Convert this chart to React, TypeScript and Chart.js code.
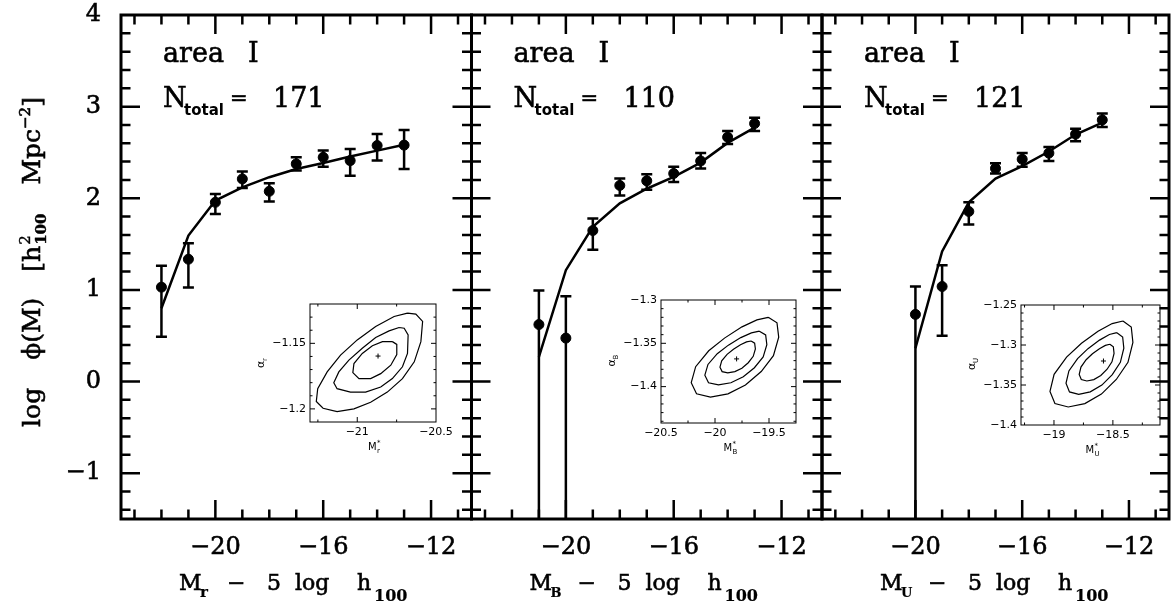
import React, { useEffect, useRef } from 'react';
import { Chart, registerables } from 'chart.js';

Chart.register(...registerables);

const SERIF = '"DejaVu Serif", serif';
const SANS = '"DejaVu Sans", sans-serif';

// ---------- main axes ----------
const xMajorTicks = [-20, -16, -12];
const yMajorTicks = [-1, 0, 1, 2, 3, 4];

// ---------- r band ----------
const rMag = [-22, -21, -20, -19, -18, -17, -16, -15, -14, -13];
const rPhi = [1.03, 1.335, 1.956, 2.211, 2.076, 2.375, 2.447, 2.411, 2.575, 2.58];
const rErrHigh = [1.265, 1.509, 2.047, 2.291, 2.164, 2.447, 2.52, 2.538, 2.702, 2.745];
const rErrLow = [0.49, 1.025, 1.829, 2.113, 1.964, 2.302, 2.345, 2.247, 2.411, 2.32];
const rFit = [0.8, 1.593, 1.975, 2.12, 2.23, 2.32, 2.385, 2.455, 2.52, 2.585];

// ---------- B band ----------
const bMag = [-21, -20, -19, -18, -17, -16, -15, -14, -13];
const bPhi = [0.622, 0.474, 1.648, 2.14, 2.19, 2.27, 2.407, 2.667, 2.815];
const bErrHigh = [0.993, 0.93, 1.778, 2.215, 2.263, 2.344, 2.493, 2.733, 2.88];
const bErrLow = [null, null, 1.437, 2.03, 2.093, 2.178, 2.326, 2.593, 2.733];
const bFit = [0.27, 1.215, 1.689, 1.944, 2.104, 2.233, 2.389, 2.604, 2.77];

// ---------- U band ----------
const uMag = [-20, -19, -18, -17, -16, -15, -14, -13];
const uPhi = [0.733, 1.037, 1.856, 2.326, 2.426, 2.493, 2.7, 2.855];
const uErrHigh = [1.037, 1.27, 1.956, 2.381, 2.493, 2.559, 2.759, 2.926];
const uErrLow = [null, 0.5, 1.715, 2.27, 2.344, 2.407, 2.622, 2.778];
const uFit = [0.363, 1.419, 1.956, 2.215, 2.352, 2.51, 2.696, 2.826];

const panelTotals = ['171', '110', '121'];
const bandNames = ['r', 'B', 'U'];

// ---------- inset contours (M*, alpha) ----------
const rContourOuter = [[-20.681,-1.1269],[-20.628,-1.1277],[-20.585,-1.1333],[-20.596,-1.1487],[-20.638,-1.1641],[-20.713,-1.1769],[-20.809,-1.1872],[-20.915,-1.1949],[-21.021,-1.2],[-21.128,-1.2021],[-21.217,-1.1995],[-21.26,-1.1944],[-21.251,-1.1846],[-21.191,-1.1718],[-21.106,-1.159],[-21.0,-1.1474],[-20.883,-1.1372],[-20.766,-1.1295]];
const rContourMid = [[-20.734,-1.1379],[-20.702,-1.1385],[-20.677,-1.1436],[-20.681,-1.1577],[-20.713,-1.1679],[-20.777,-1.1769],[-20.851,-1.1833],[-20.947,-1.1872],[-21.043,-1.1872],[-21.128,-1.1846],[-21.149,-1.18],[-21.117,-1.1718],[-21.053,-1.1628],[-20.968,-1.1538],[-20.883,-1.1456],[-20.798,-1.1405]];
const rContourInner = [[-20.777,-1.1487],[-20.749,-1.1508],[-20.749,-1.1585],[-20.787,-1.1667],[-20.851,-1.1731],[-20.915,-1.1769],[-20.989,-1.1769],[-21.028,-1.1723],[-21.021,-1.1654],[-20.968,-1.1577],[-20.904,-1.1518],[-20.84,-1.1487]];
const rBest = [-20.868, -1.1597];

const bContourOuter = [[-19.507,-1.32],[-19.426,-1.3264],[-19.41,-1.343],[-19.459,-1.3642],[-19.572,-1.3826],[-19.718,-1.3982],[-19.88,-1.4083],[-20.042,-1.412],[-20.171,-1.4083],[-20.22,-1.3954],[-20.179,-1.377],[-20.058,-1.3586],[-19.912,-1.344],[-19.75,-1.331],[-19.612,-1.323]];
const bContourMid = [[-19.589,-1.336],[-19.531,-1.3403],[-19.52,-1.3515],[-19.554,-1.3658],[-19.635,-1.3782],[-19.738,-1.3887],[-19.853,-1.3955],[-19.968,-1.398],[-20.06,-1.3955],[-20.094,-1.3868],[-20.065,-1.3744],[-19.979,-1.362],[-19.876,-1.3521],[-19.761,-1.3434],[-19.663,-1.3379]];
const bContourInner = [[-19.665,-1.3473],[-19.633,-1.3499],[-19.626,-1.3565],[-19.646,-1.365],[-19.692,-1.3724],[-19.751,-1.3787],[-19.816,-1.3827],[-19.882,-1.3842],[-19.934,-1.3827],[-19.954,-1.3776],[-19.938,-1.3702],[-19.888,-1.3628],[-19.829,-1.3569],[-19.764,-1.3517],[-19.708,-1.3484]];
const bBest = [-19.8, -1.368];

const uContourOuter = [[-18.4145,-1.27],[-18.344,-1.2775],[-18.33,-1.2969],[-18.372,-1.3216],[-18.471,-1.3431],[-18.5975,-1.3614],[-18.738,-1.3732],[-18.879,-1.3775],[-18.992,-1.3732],[-19.034,-1.3581],[-18.999,-1.3366],[-18.893,-1.3151],[-18.7665,-1.2979],[-18.626,-1.2829],[-18.506,-1.2732]];
const uContourMid = [[-18.466,-1.2846],[-18.417,-1.29],[-18.407,-1.3039],[-18.4365,-1.3216],[-18.505,-1.337],[-18.5936,-1.3501],[-18.692,-1.3586],[-18.79,-1.3617],[-18.8685,-1.3586],[-18.898,-1.3478],[-18.8734,-1.3324],[-18.7998,-1.317],[-18.7114,-1.3046],[-18.6132,-1.2939],[-18.5297,-1.2869]];
const uContourInner = [[-18.5255,-1.2991],[-18.496,-1.3023],[-18.49,-1.3106],[-18.5078,-1.3211],[-18.549,-1.3303],[-18.6025,-1.3381],[-18.6617,-1.3432],[-18.721,-1.345],[-18.768,-1.3432],[-18.786,-1.3367],[-18.771,-1.3276],[-18.727,-1.3184],[-18.6735,-1.311],[-18.6143,-1.3046],[-18.564,-1.3005]];
const uBest = [-18.58, -1.32];

const rInsetXTicks = [-21, -20.5];
const rInsetYTicks = [-1.2, -1.15];
const bInsetXTicks = [-20.5, -20, -19.5];
const bInsetYTicks = [-1.4, -1.35, -1.3];
const uInsetXTicks = [-19, -18.5];
const uInsetYTicks = [-1.4, -1.35, -1.3, -1.25];

// ---------- layout ----------
const W = 1175, H = 607;
const PANELS = [
  { left: 121, right: 471.5, mag: rMag, phi: rPhi, hi: rErrHigh, lo: rErrLow, fit: rFit, band: bandNames[0], total: panelTotals[0], first: true },
  { left: 471.5, right: 822, mag: bMag, phi: bPhi, hi: bErrHigh, lo: bErrLow, fit: bFit, band: bandNames[1], total: panelTotals[1], first: false },
  { left: 822, right: 1172.5, mag: uMag, phi: uPhi, hi: uErrHigh, lo: uErrLow, fit: uFit, band: bandNames[2], total: panelTotals[2], first: false },
];
const PLOT_TOP = 15, PLOT_BOTTOM = 519;

const INSETS = [
  { box: [310, 304, 436, 422], xr: [-21.3, -20.5], yr: [-1.21, -1.12], xt: rInsetXTicks, yt: rInsetYTicks, xs: 0.25, ys: 0.01, contours: [rContourOuter, rContourMid, rContourInner], best: rBest, band: bandNames[0] },
  { box: [661, 300, 796, 423], xr: [-20.5, -19.25], yr: [-1.442, -1.3], xt: bInsetXTicks, yt: bInsetYTicks, xs: 0.25, ys: 0.01, contours: [bContourOuter, bContourMid, bContourInner], best: bBest, band: bandNames[1] },
  { box: [1021, 305, 1160, 425], xr: [-19.28, -18.1], yr: [-1.4, -1.25], xt: uInsetXTicks, yt: uInsetYTicks, xs: 0.25, ys: 0.01, contours: [uContourOuter, uContourMid, uContourInner], best: uBest, band: bandNames[2] },
];
const INS_PAD_L = 75, INS_PAD_T = 12, INS_PAD_R = 24, INS_PAD_B = 40;

const fmt = (v: number) => {
  const a = Math.round(Math.abs(v) * 1000) / 1000;
  return (v < 0 ? '\u2212' : '') + String(a);
};

function boldText(ctx: CanvasRenderingContext2D, t: string, x: number, y: number, w = 0.6) {
  ctx.fillText(t, x, y);
  ctx.lineWidth = w;
  ctx.strokeText(t, x, y);
}

function drawTicks(ctx: CanvasRenderingContext2D, a: any, sx: any, sy: any, xr: number[], xStep: number, xMaj: number[], yr: number[], yStep: number, yMaj: number[], majLen: number, minLen: number) {
  const isMaj = (list: number[], v: number) => list.some((m) => Math.abs(m - v) < 1e-7);
  ctx.beginPath();
  for (let k = Math.ceil(xr[0] / xStep - 1e-9); k * xStep <= xr[1] + 1e-9; k++) {
    const v = k * xStep;
    const px = sx.getPixelForValue(v);
    if (px <= a.left + 1 || px >= a.right - 1) continue;
    const len = isMaj(xMaj, v) ? majLen : minLen;
    ctx.moveTo(px, a.bottom); ctx.lineTo(px, a.bottom - len);
    ctx.moveTo(px, a.top); ctx.lineTo(px, a.top + len);
  }
  for (let k = Math.ceil(yr[0] / yStep - 1e-9); k * yStep <= yr[1] + 1e-9; k++) {
    const v = k * yStep;
    const py = sy.getPixelForValue(v);
    if (py <= a.top + 1 || py >= a.bottom - 1) continue;
    const len = isMaj(yMaj, v) ? majLen : minLen;
    ctx.moveTo(a.left, py); ctx.lineTo(a.left + len, py);
    ctx.moveTo(a.right, py); ctx.lineTo(a.right - len, py);
  }
  ctx.stroke();
}

function drawYTitle(ctx: CanvasRenderingContext2D) {
  const big = '25px ' + SERIF;
  const small = '15px ' + SERIF;
  const smallB = 'bold 15px ' + SERIF;
  const parts: any[] = [
    { t: 'log', f: big, dy: 0 },
    { gap: 28 },
    { t: '\u03D5(M)', f: big, dy: 0 },
    { gap: 26 },
    { t: '[h', f: big, dy: 0 },
    { stack: [{ t: '2', f: small, dy: -10 }, { t: '100', f: smallB, dy: 6 }] },
    { gap: 28 },
    { t: 'Mpc', f: big, dy: 0 },
    { t: '\u22122', f: small, dy: -10 },
    { t: ']', f: big, dy: 0 },
  ];
  const widthOf = (p: any) => {
    if (p.gap) return p.gap;
    if (p.stack) return Math.max(...p.stack.map((s: any) => { ctx.font = s.f; return ctx.measureText(s.t).width; })) + 2;
    ctx.font = p.f; return ctx.measureText(p.t).width;
  };
  const total = parts.reduce((s, p) => s + widthOf(p), 0);
  ctx.save();
  ctx.translate(40, 262);
  ctx.rotate(-Math.PI / 2);
  ctx.fillStyle = '#000';
  ctx.strokeStyle = '#000';
  ctx.textAlign = 'left';
  ctx.textBaseline = 'alphabetic';
  let x = -total / 2;
  parts.forEach((p) => {
    const w = widthOf(p);
    if (p.stack) {
      p.stack.forEach((s: any) => { ctx.font = s.f; boldText(ctx, s.t, x + 1, s.dy, 0.4); });
    } else if (!p.gap) {
      ctx.font = p.f; boldText(ctx, p.t, x, p.dy);
    }
    x += w;
  });
  ctx.restore();
}

function mainPlugin(p: any) {
  return {
    id: 'mainFrame',
    afterDatasetsDraw(chart: any) {
      const { ctx, chartArea: a, scales } = chart;
      const sx = scales.x, sy = scales.y;
      ctx.save();
      ctx.beginPath();
      ctx.rect(a.left, a.top, a.right - a.left, a.bottom - a.top);
      ctx.clip();
      ctx.strokeStyle = '#000';
      ctx.lineWidth = 2.5;
      ctx.beginPath();
      p.mag.forEach((m: number, i: number) => {
        const px = sx.getPixelForValue(m);
        const yh = sy.getPixelForValue(p.hi[i]);
        const low = p.lo[i];
        const yl = low == null ? a.bottom + 5 : sy.getPixelForValue(low);
        ctx.moveTo(px, yh); ctx.lineTo(px, yl);
        ctx.moveTo(px - 5.5, yh); ctx.lineTo(px + 5.5, yh);
        if (low != null) { ctx.moveTo(px - 5.5, yl); ctx.lineTo(px + 5.5, yl); }
      });
      ctx.stroke();
      ctx.restore();
    },
    afterDraw(chart: any) {
      const { ctx, chartArea: a, scales } = chart;
      ctx.save();
      ctx.strokeStyle = '#000';
      ctx.lineWidth = 2.5;
      drawTicks(ctx, a, scales.x, scales.y, [-23.5, -10.5], 1, xMajorTicks, [-1.5, 4], 0.2, yMajorTicks, 19, 9.5);
      ctx.lineWidth = 3;
      ctx.strokeRect(a.left, a.top, a.right - a.left, a.bottom - a.top);

      ctx.fillStyle = '#000';
      ctx.textAlign = 'left';
      ctx.textBaseline = 'alphabetic';
      const L = a.left;
      ctx.font = '27px ' + SERIF;
      boldText(ctx, 'area', L + 42, 62);
      boldText(ctx, 'I', L + 127, 62);
      boldText(ctx, 'N', L + 42, 107);
      ctx.font = 'bold 15px ' + SANS;
      ctx.fillText('total', L + 63, 115);
      ctx.font = '21px ' + SERIF;
      boldText(ctx, '=', L + 109, 105);
      ctx.font = '27px ' + SERIF;
      boldText(ctx, p.total, L + 152, 107);

      // x axis title
      const segs = [
        { t: 'M', dx: 58, y: 590, f: '22px ' + SERIF },
        { t: p.band, dx: 79, y: 597, f: 'bold ' + (p.band === 'r' ? 15 : 13) + 'px ' + SERIF },
        { t: '\u2212', dx: 106, y: 590, f: '22px ' + SERIF },
        { t: '5', dx: 146, y: 590, f: '22px ' + SERIF },
        { t: 'log', dx: 174, y: 590, f: '22px ' + SERIF },
        { t: 'h', dx: 236, y: 590, f: '22px ' + SERIF },
        { t: '100', dx: 253, y: 601, f: 'bold 16px ' + SERIF },
      ];
      segs.forEach((s) => { ctx.font = s.f; boldText(ctx, s.t, L + s.dx, s.y, s.f.startsWith('bold') ? 0.2 : 0.6); });
      ctx.restore();
      if (p.first) drawYTitle(ctx);
    },
  };
}

function mainConfig(p: any): any {
  return {
    type: 'scatter',
    data: {
      datasets: [
        { data: p.mag.map((m: number, i: number) => ({ x: m, y: p.fit[i] })), showLine: true, borderColor: '#000', borderWidth: 2.5, pointRadius: 0, tension: 0, fill: false, order: 2 },
        { data: p.mag.map((m: number, i: number) => ({ x: m, y: p.phi[i] })), showLine: false, pointRadius: 5, pointBorderWidth: 1, pointBackgroundColor: '#000', pointBorderColor: '#000', order: 1 },
      ],
    },
    options: {
      responsive: false,
      animation: false,
      devicePixelRatio: 1,
      events: [],
      layout: { padding: { left: p.first ? 0 : p.left, right: W - p.right, top: PLOT_TOP, bottom: 0 } },
      plugins: { legend: { display: false }, tooltip: { enabled: false } },
      scales: {
        x: {
          type: 'linear', position: 'bottom', min: -23.5, max: -10.5,
          grid: { display: false, drawTicks: false }, border: { display: false },
          afterBuildTicks: (s: any) => { s.ticks = xMajorTicks.map((v) => ({ value: v })); },
          afterFit: (s: any) => { s.height = H - PLOT_BOTTOM; s.paddingLeft = 0; s.paddingRight = 0; },
          ticks: { autoSkip: false, maxRotation: 0, padding: 14, color: '#000', textStrokeColor: '#000', textStrokeWidth: 0.6, font: { family: SERIF, size: 24 }, callback: (v: number) => fmt(v) },
        },
        y: {
          type: 'linear', position: 'left', min: -1.5, max: 4,
          grid: { display: false, drawTicks: false }, border: { display: false },
          afterBuildTicks: (s: any) => { s.ticks = yMajorTicks.map((v) => ({ value: v })); },
          afterFit: (s: any) => { s.width = p.first ? p.left : 0; s.paddingTop = 0; s.paddingBottom = 0; },
          ticks: { display: p.first, autoSkip: false, padding: 20, color: '#000', textStrokeColor: '#000', textStrokeWidth: 0.6, font: { family: SERIF, size: 24 }, callback: (v: number) => fmt(v) },
        },
      },
    },
    plugins: [mainPlugin(p)],
  };
}

function insetPlugin(s: any) {
  return {
    id: 'insetFrame',
    afterDraw(chart: any) {
      const { ctx, chartArea: a, scales } = chart;
      ctx.save();
      ctx.strokeStyle = '#000';
      ctx.lineWidth = 1;
      drawTicks(ctx, a, scales.x, scales.y, s.xr, s.xs, s.xt, s.yr, s.ys, s.yt, 5, 2.5);
      ctx.strokeRect(a.left, a.top, a.right - a.left, a.bottom - a.top);
      ctx.fillStyle = '#000';
      ctx.textBaseline = 'alphabetic';
      ctx.textAlign = 'left';
      const cx = (a.left + a.right) / 2;
      ctx.font = '10px ' + SANS;
      ctx.fillText('M', cx - 5, a.bottom + 28);
      ctx.font = '7px ' + SANS;
      ctx.fillText('*', cx + 4, a.bottom + 23);
      ctx.fillText(s.band, cx + 4, a.bottom + 31);
      ctx.translate(a.left - 46, (a.top + a.bottom) / 2);
      ctx.rotate(-Math.PI / 2);
      ctx.font = '11px ' + SANS;
      ctx.fillText('\u03B1', -5, 0);
      ctx.font = '7px ' + SANS;
      ctx.fillText(s.band, 2, 3);
      ctx.restore();
    },
  };
}

function insetConfig(s: any): any {
  const tickFont = { family: SANS, size: 11 };
  return {
    type: 'scatter',
    data: {
      datasets: [
        ...s.contours.map((c: number[][]) => ({
          data: [...c, c[0]].map(([x, y]) => ({ x, y })),
          showLine: true, borderColor: '#000', borderWidth: 1.2, pointRadius: 0, tension: 0, fill: false,
        })),
        { data: [{ x: s.best[0], y: s.best[1] }], showLine: false, pointStyle: 'cross', pointRadius: 2.5, pointBorderWidth: 1, pointBorderColor: '#000', pointBackgroundColor: '#000' },
      ],
    },
    options: {
      responsive: false,
      animation: false,
      devicePixelRatio: 1,
      events: [],
      layout: { padding: { left: 0, right: INS_PAD_R, top: INS_PAD_T, bottom: 0 } },
      plugins: { legend: { display: false }, tooltip: { enabled: false } },
      scales: {
        x: {
          type: 'linear', min: s.xr[0], max: s.xr[1],
          grid: { display: false, drawTicks: false }, border: { display: false },
          afterBuildTicks: (sc: any) => { sc.ticks = s.xt.map((v: number) => ({ value: v })); },
          afterFit: (sc: any) => { sc.height = INS_PAD_B; sc.paddingLeft = 0; sc.paddingRight = 0; },
          ticks: { autoSkip: false, maxRotation: 0, padding: 4, color: '#000', font: tickFont, callback: (v: number) => fmt(v) },
        },
        y: {
          type: 'linear', min: s.yr[0], max: s.yr[1],
          grid: { display: false, drawTicks: false }, border: { display: false },
          afterBuildTicks: (sc: any) => { sc.ticks = s.yt.map((v: number) => ({ value: v })); },
          afterFit: (sc: any) => { sc.width = INS_PAD_L; sc.paddingTop = 0; sc.paddingBottom = 0; },
          ticks: { autoSkip: false, padding: 4, color: '#000', font: tickFont, callback: (v: number) => fmt(v) },
        },
      },
    },
    plugins: [insetPlugin(s)],
  };
}

export default function App() {
  const m0 = useRef<HTMLCanvasElement>(null);
  const m1 = useRef<HTMLCanvasElement>(null);
  const m2 = useRef<HTMLCanvasElement>(null);
  const i0 = useRef<HTMLCanvasElement>(null);
  const i1 = useRef<HTMLCanvasElement>(null);
  const i2 = useRef<HTMLCanvasElement>(null);
  const mainRefs = [m0, m1, m2];
  const insetRefs = [i0, i1, i2];

  useEffect(() => {
    const charts: Chart[] = [];
    PANELS.forEach((p, i) => {
      if (mainRefs[i].current) charts.push(new Chart(mainRefs[i].current as HTMLCanvasElement, mainConfig(p)));
    });
    INSETS.forEach((s, i) => {
      if (insetRefs[i].current) charts.push(new Chart(insetRefs[i].current as HTMLCanvasElement, insetConfig(s)));
    });
    return () => charts.forEach((c) => c.destroy());
  }, []);

  return (
    <div style={{ position: 'absolute', left: 0, top: 0, width: W, height: H, background: '#fff', overflow: 'hidden' }}>
      {PANELS.map((p, i) => (
        <canvas key={'m' + i} ref={mainRefs[i]} width={W} height={H} style={{ position: 'absolute', left: 0, top: 0, width: W, height: H }} />
      ))}
      {INSETS.map((s, i) => {
        const cw = s.box[2] - s.box[0] + INS_PAD_L + INS_PAD_R;
        const ch = s.box[3] - s.box[1] + INS_PAD_T + INS_PAD_B;
        return (
          <canvas key={'i' + i} ref={insetRefs[i]} width={cw} height={ch}
            style={{ position: 'absolute', left: s.box[0] - INS_PAD_L, top: s.box[1] - INS_PAD_T, width: cw, height: ch }} />
        );
      })}
    </div>
  );
}
